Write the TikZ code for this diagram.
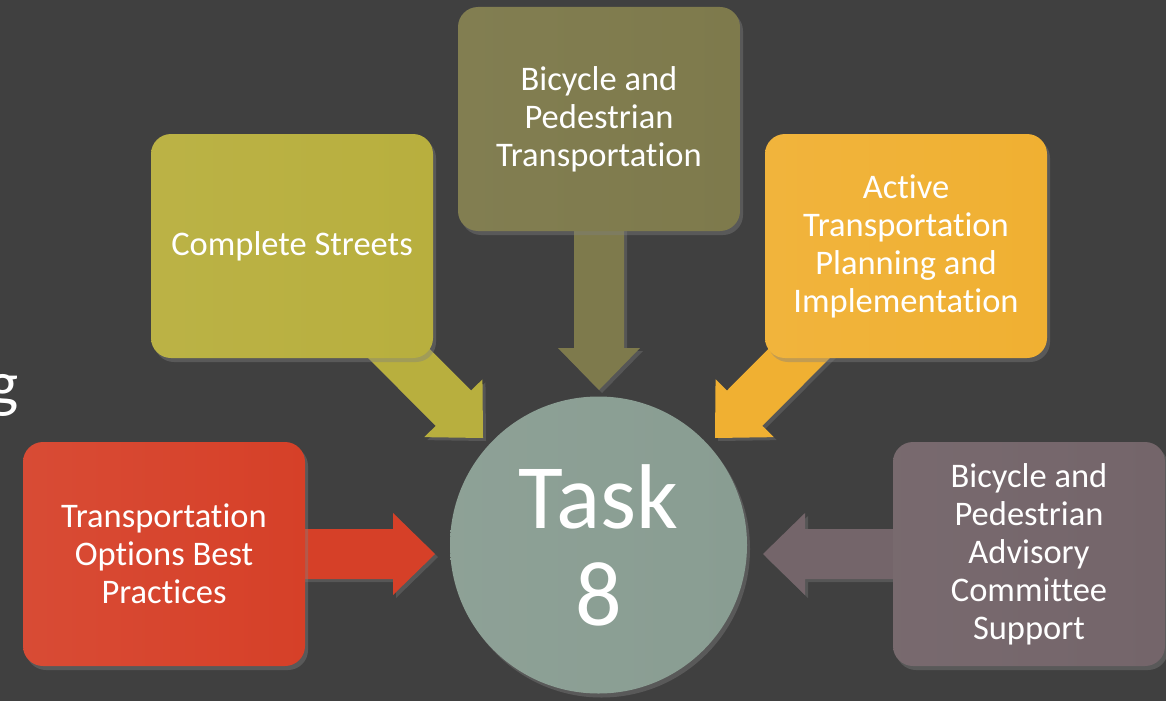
\documentclass[tikz,border=0pt]{standalone}
\usepackage{fontspec}
\setmainfont{Carlito}[Ligatures=NoCommon]
\usetikzlibrary{calc,shadows}

\definecolor{slidebg}{RGB}{64,64,64}
\definecolor{redopt}{RGB}{214,64,40}
\definecolor{greenst}{RGB}{184,175,62}
\definecolor{olivebp}{RGB}{126,122,76}
\definecolor{orangeat}{RGB}{240,176,50}
\definecolor{mauvebp}{RGB}{116,101,106}
\definecolor{taskcol}{RGB}{137,157,146}

\pgfdeclarelayer{back}
\pgfdeclarelayer{arrows}
\pgfsetlayers{back,arrows,main}

\newcommand{\blockarrow}[3]{%
  \path ($(#2)!42pt!(#1.center)$) coordinate (neck);
  \fill[#3, arrowshadow] ($(#1.center)!25pt!90:(#2)$) -- ($(neck)!25pt!90:(#2)$) -- ($(neck)!41pt!90:(#2)$) -- (#2)
    -- ($(neck)!41pt!-90:(#2)$) -- ($(neck)!25pt!-90:(#2)$) -- ($(#1.center)!25pt!-90:(#2)$) -- cycle;
}

\begin{document}
\begin{tikzpicture}[x=1pt, y=-1pt,
  box/.style={rounded corners=20pt, minimum width=282pt, minimum height=224pt, inner sep=0pt,
    align=center, text=white, font=\fontsize{34.5}{38}\selectfont,
    drop shadow={shadow xshift=3pt, shadow yshift=-4pt, opacity=0.4}},
  arrowshadow/.style={drop shadow={shadow xshift=3pt, shadow yshift=-3pt, opacity=0.35}}]
  \begin{pgfonlayer}{back}
    \fill[slidebg] (0,0) rectangle (1166,701);
  \end{pgfonlayer}
  \useasboundingbox (0,0) rectangle (1166,701);

  \node[text=white, font=\fontsize{64}{64}\selectfont, anchor=base west, inner sep=0pt] (cutg) at (-12,405) {g};

  \node[box, left color=redopt!94!white, right color=redopt] (optbox) at (164,554) {Transportation\\Options Best\\Practices};
  \node[box, left color=greenst!96!white, right color=greenst] (streetbox) at (292,246) {Complete Streets};
  \node[box, left color=olivebp!97!white, right color=olivebp] (bikebox) at (599,119) {Bicycle and\\Pedestrian\\Transportation};
  \node[box, left color=orangeat!95!white, right color=orangeat] (activebox) at (906,246) {Active\\Transportation\\Planning and\\Implementation};
  \node[box, minimum width=272pt, left color=mauvebp!97!white, right color=mauvebp] (advbox) at (1029,554) {Bicycle and\\Pedestrian\\Advisory\\Committee\\Support};

  \node[circle, minimum size=297pt, inner sep=0pt, left color=taskcol!96!white, right color=taskcol,
    text=white, font=\fontsize{92}{97}\selectfont, align=center,
    drop shadow={shadow xshift=3pt, shadow yshift=-4pt, opacity=0.4}] (task) at (598.5,545) {Task\\8};

  \coordinate (tipA) at (435,554);
  \coordinate (tipB) at (483,438);
  \coordinate (tipC) at (599,390);
  \coordinate (tipD) at (715,438);
  \coordinate (tipE) at (763,554);

  \begin{pgfonlayer}{arrows}
    \blockarrow{optbox}{tipA}{redopt}
    \blockarrow{streetbox}{tipB}{greenst}
    \blockarrow{bikebox}{tipC}{olivebp}
    \blockarrow{activebox}{tipD}{orangeat}
    \blockarrow{advbox}{tipE}{mauvebp}
  \end{pgfonlayer}
\end{tikzpicture}
\end{document}
